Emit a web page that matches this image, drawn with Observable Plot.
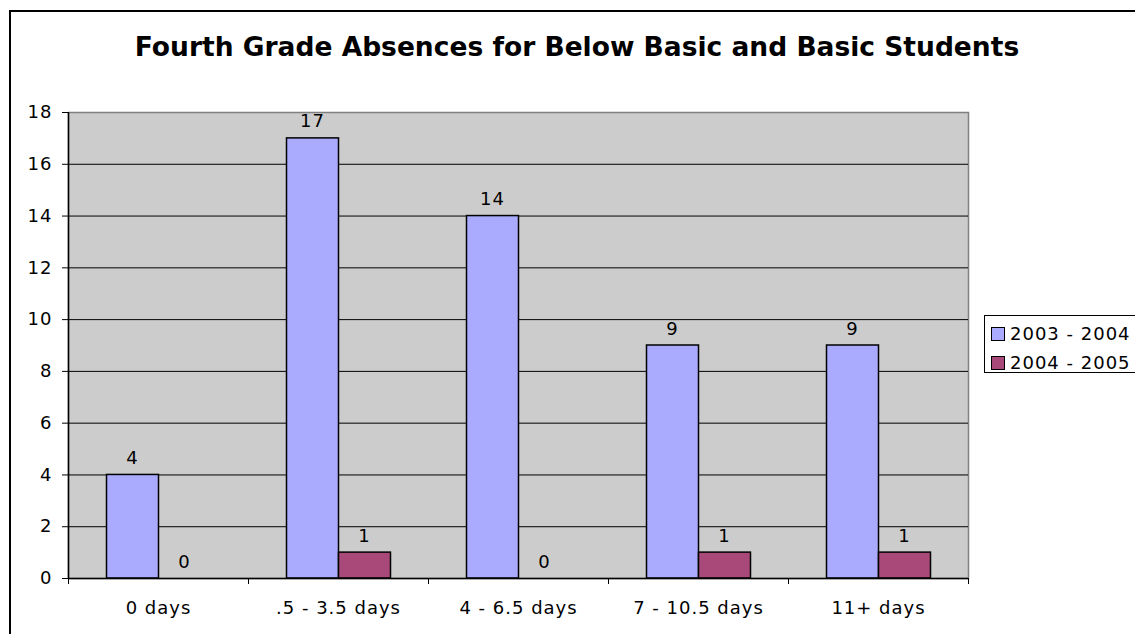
<!DOCTYPE html>
<html>
<head>
<meta charset="utf-8">
<script src="https://cdn.jsdelivr.net/npm/d3@7"></script>
<script src="https://cdn.jsdelivr.net/npm/@observablehq/plot@0.6"></script>
<style>
  html, body { margin: 0; padding: 0; background: #fff; }
  #wrap { position: relative; width: 1135px; height: 634px; overflow: hidden; font-family: "DejaVu Sans", Verdana, sans-serif; }
  #border { position: absolute; left: 9px; top: 10px; width: 1200px; height: 700px; border: 2px solid #000; box-sizing: border-box; }
  #title { position: absolute; left: 0; top: 34px; width: 1154px; text-align: center; font-weight: bold; font-size: 26.5px; line-height: 26px; color: #000; white-space: nowrap; }
  #chart { position: absolute; left: 0; top: 0; }
  #legend { position: absolute; left: 984px; top: 315px; width: 200px; height: 58px; border: 1px solid #000; box-sizing: border-box; background: #fff; padding-top: 3px; }
  .row { display: flex; align-items: center; height: 29px; font-size: 18px; letter-spacing: 1px; color: #000; }
  .sw { width: 12px; height: 12px; border: 1px solid #000; margin-left: 6px; margin-right: 5px; }
</style>
</head>
<body>
<div id="wrap">
  <div id="border"></div>
  <div id="title"></div>
  <div id="chart"></div>
  <div id="legend"></div>
</div>
<script>
const titleText = "Fourth Grade Absences for Below Basic and Basic Students";
const categories = ["0 days", ".5 - 3.5 days", "4 - 6.5 days", "7 - 10.5 days", "11+ days"];
const seriesNames = ["2003 - 2004", "2004 - 2005"];
const values2003 = [4, 17, 14, 9, 9];
const values2004 = [0, 1, 0, 1, 1];
const seriesColors = ["#AAAAFF", "#A8497A"];
const yTicks = [0, 2, 4, 6, 8, 10, 12, 14, 16, 18];

document.getElementById("title").textContent = titleText;

const rows2003 = categories.map((c, i) => ({i, c, v: values2003[i]}));
const rows2004 = categories.map((c, i) => ({i, c, v: values2004[i]}));
const edgeTicks = d3.range(categories.length + 1);
const centerTicks = categories.map((c, i) => i + 0.5);

const chart = Plot.plot({
  width: 1135,
  height: 634,
  marginTop: 112,
  marginBottom: 56,
  marginLeft: 68,
  marginRight: 167,
  x: {domain: [0, categories.length]},
  y: {domain: [0, 18]},
  style: {fontFamily: "DejaVu Sans, Verdana, sans-serif", fontSize: "18px", background: "transparent", color: "#000", letterSpacing: "1px"},
  marks: [
    Plot.frame({fill: "#cccccc", stroke: "#808080", strokeWidth: 1.5}),
    Plot.gridY(yTicks.filter(t => t > 0 && t < 18), {stroke: "#000", strokeOpacity: 1, strokeWidth: 1}),
    Plot.rect(rows2003, {x1: "i", x2: d => d.i + 1, y1: () => 0, y2: "v", insetLeft: 38.5, insetRight: 89.5, fill: seriesColors[0], stroke: "#000", strokeWidth: 1.5}),
    Plot.rect(rows2004, {x1: "i", x2: d => d.i + 1, y1: () => 0, y2: "v", insetLeft: 90.5, insetRight: 37.5, fill: seriesColors[1], stroke: "#000", strokeWidth: 1.5}),
    Plot.text(rows2003, {x: d => d.i + 0.5, y: "v", text: d => String(d.v), dx: -26, dy: -11, lineAnchor: "bottom", fill: "#000"}),
    Plot.text(rows2004, {x: d => d.i + 0.5, y: "v", text: d => String(d.v), dx: 26, dy: -11, lineAnchor: "bottom", fill: "#000"}),
    Plot.ruleX([0], {stroke: "#000", strokeWidth: 1.5}),
    Plot.ruleY([0], {stroke: "#000", strokeWidth: 1.5}),
    Plot.axisY({ticks: yTicks, tickSize: 6, tickPadding: 10, tickFormat: d => String(d), label: null}),
    Plot.axisX({ticks: edgeTicks, tickSize: 6, tickFormat: () => "", label: null}),
    Plot.axisX({ticks: centerTicks, tickSize: 0, tickPadding: 23, tickFormat: d => categories[Math.floor(d)], label: null})
  ]
});
document.getElementById("chart").appendChild(chart);

const legend = document.getElementById("legend");
seriesNames.forEach((name, k) => {
  const row = document.createElement("div");
  row.className = "row";
  const sw = document.createElement("div");
  sw.className = "sw";
  sw.style.background = seriesColors[k];
  const label = document.createElement("span");
  label.textContent = name;
  row.appendChild(sw);
  row.appendChild(label);
  legend.appendChild(row);
});
</script>
</body>
</html>
